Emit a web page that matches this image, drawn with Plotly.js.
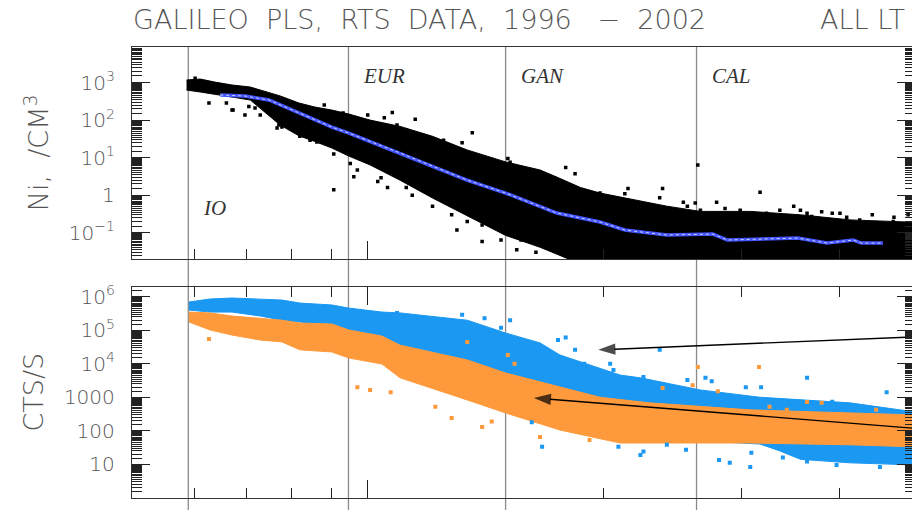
<!DOCTYPE html>
<html><head><meta charset="utf-8">
<script src="https://cdn.plot.ly/plotly-3.0.1.min.js"></script>
<style>html,body{margin:0;padding:0;overflow:hidden;background:#fff;width:912px;height:510px}#chart{width:916px;height:510px}</style>
</head><body><div id="chart"></div>
<script>
// ---- x: radial distance (R_J), log axis ----
const rRange = [5, 50];
const rMajorTicks = [10];
const rMinorTicks = [6, 7, 8, 9, 20, 30, 40];
const moonNames = ['IO', 'EUR', 'GAN', 'CAL'];
const moonR = [5.9, 9.45, 15.0, 26.3];

// ---- top panel: ion density Ni (/cm^3) ----
const niRange = [0.02, 9000];
const niTickVals = [0.1, 1, 10, 100, 1000];
const niTickText = ['10<sup>−1</sup>', '1', '10<sup>1</sup>', '10<sup>2</sup>', '10<sup>3</sup>'];
const niUpperR = [5.87,6.11,6.38,6.71,7.08,7.40,7.73,8.17,8.56,9.0,9.46,10.07,11.0,12.1,13.4,15.0,16.6,17.4,18.7,19.8,21.6,24.1,26.6,30.8,35.7,41.3,50];
const niUpper  = [1170,1240,1030,860,760,590,440,285,223,185,145,100,68,37,16,7.7,4.7,3.1,1.6,1.14,0.79,0.51,0.37,0.37,0.30,0.22,0.19];
const niLowerR = [5.87,6.11,6.38,6.71,7.08,7.40,7.73,8.17,8.56,9.0,9.46,10.07,11.0,12.1,13.4,15.0,16.6,17.4,18.4,50];
const niLower  = [630,560,494,411,343,154,74,38,27,18,11,6.4,2.5,0.84,0.28,0.085,0.041,0.028,0.017,0.01];
const niScatter = [[6.02,1300],[6.27,285],[6.6,285],[6.71,185],[6.73,185],[6.97,136],[7.05,230],[7.18,209],[7.29,136],[7.33,236],[7.66,62],[7.7,74],[7.77,65],[8.0,62],[8.19,37],[8.44,29],[8.5,44],[8.61,26],[8.7,38],
  [8.8,252],[9.3,154],[10.0,136],[10.5,74],[11.2,52],[12.1,21],[12.5,29],[14.1,8.6],[14.8,7.0],[16.2,4.2],[17.0,2.3],[19.8,1.14],
  [9.05,1.4],[9.6,3.1],[10.3,2.3],[11.4,1.0],[12.1,0.51],[13.4,0.20],[14.8,0.064],[15.5,0.035],
  [9.05,12.5],[9.5,7.0],[9.7,4.7],[10.4,2.9],[10.5,116],[10.6,1.6],[10.75,160],[10.9,74],[11.2,54],[11.2,1.6],[11.5,105],[11.8,37],[12.8,19],[12.8,0.30],[13.0,0.118],[13.2,25],[13.5,10],[13.6,46],[14.0,0.16],[14.0,0.058],[15.1,9.5],[15.2,7.5],[15.7,0.064],[16.1,0.07],[16.4,0.03],[16.6,1.6],[16.9,0.075],[17.9,5.5],[17.9,0.024],[18.2,1.6],[18.4,3.7],[19.0,0.9],[20.3,0.62],[20.6,0.74],[20.8,0.74],[21.3,1.1],[21.5,1.5],[22.3,0.55],[23.6,0.85],[23.8,1.5],[25.3,0.65],[26.2,0.62],[26.4,6.4],[27.9,0.65],[28.6,0.44],[29.3,0.30],[31.7,1.2],[32.9,0.30],[35.7,0.40],[36.4,0.33],[38.0,0.36],[40.1,0.33],[41.0,0.19],[44.1,0.30],[47.0,0.26],[49.0,0.30],
  [20.4,0.74],[21.0,0.51],[21.8,0.40],[22.7,0.51],[23.1,0.27],[24.1,0.40],[24.8,0.33],[25.6,0.51],[26.6,0.40],[27.4,0.27],[28.2,0.33],[29.9,0.40],[30.8,0.27],[32.3,0.33],[33.6,0.40],[34.1,0.27],[35.0,0.51],[36.9,0.27],[39.2,0.33],[40.9,0.26],[42.5,0.22],[46.9,0.20],[48.2,0.15]];
const niMeanR = [6.48,6.97,7.48,8.19,9.0,9.46,10.74,11.0,13.39,15.0,17.44,19.8,21.3,24.1,27.6,28.8,35.4,38.6,41.7,42.7,45.5];
const niMean  = [466,437,343,154,65,45,16,13.3,2.53,1.14,0.335,0.193,0.118,0.087,0.092,0.064,0.072,0.053,0.064,0.053,0.053];

// ---- bottom panel: count rates (cts/s) ----
const ctsRange = [1, 2e6];
const ctsTickVals = [10, 100, 1000, 1e4, 1e5, 1e6];
const ctsTickText = ['10', '100', '1000', '10<sup>4</sup>', '10<sup>5</sup>', '10<sup>6</sup>'];
const blueUpperR = [5.91,6.29,6.71,7.29,7.77,8.19,9.0,9.46,10.43,11.0,12.0,13.4,15.0,16.6,17.6,18.7,19.8,21.0,22.3,26.6,31.7,35.7,41.3,50];
const blueUpper  = [7.0e5,8.6e5,9.2e5,8.6e5,8.0e5,6.5e5,5.7e5,4.6e5,3.5e5,3.3e5,2.7e5,2.0e5,8.3e4,4.2e4,1.83e4,1.13e4,7.5e3,4.6e3,3.8e3,1.65e3,1.0e3,830,680,363];
const blueLowerR = [5.91,6.29,6.71,7.29,7.77,8.19,9.0,9.46,10.43,11.0,12.0,13.4,15.0,16.6,18.7,21.0,26.6,31.7,33.6,35.7,41.3,50];
const blueLower  = [4.0e5,3.5e5,3.5e5,2.67e5,2.0e5,1.77e5,1.09e5,7.2e4,3.6e4,2.1e4,1.3e4,6.5e3,2.0e3,1.0e3,590,200,50,40,25,14,11,9.5];
const orangeUpperR = [5.91,6.29,6.71,7.29,7.77,8.19,9.0,9.46,10.43,11.0,12.0,13.4,15.0,17.6,19.8,22.9,30.8,41.3,50];
const orangeUpper  = [3.5e5,3.3e5,2.67e5,2.3e5,2.0e5,1.65e5,1.54e5,1.02e5,6.7e4,3.6e4,2.25e4,1.3e4,5.3e3,2.0e3,1.0e3,680,420,340,296];
const orangeLowerR = [5.91,6.29,6.71,7.29,7.77,8.19,9.0,9.46,10.43,11.0,12.0,13.4,15.0,17.6,21.0,30.8,41.3,50];
const orangeLower  = [1.77e5,1.02e5,7.2e4,5.1e4,4.5e4,2.6e4,2.25e4,1.49e4,9.8e3,3.8e3,1.9e3,830,340,105,43,43,38,33];
const blueScatter = [[10.9,3.3e5],[12.0,1.44e5],[12.6,1.0e5],[13.1,8.0e4],[13.2,2.9e5],[13.5,6.0e4],[14.1,2.3e5],[14.8,1.2e5],[15.2,2.0e5],[16.2,2.1e4],[16.9,1.3e4],[17.5,5.1e4],[17.9,6.1e4],[18.4,2.6e4],[17.7,9.2e3],[18.9,1.0e4],[20.4,1.0e4],[20.6,6.5e3],[16.7,33],[16.2,180],[23.6,2.6e4],[22.5,4.0e3],[25.6,3.3e3],[27.0,3.8e3],[27.5,3.0e3],[30.4,2.0e3],[31.8,2.0e3],[36.4,3.8e3],[46.0,1.4e3],[39.2,740],[43.0,520],[34.6,680],[28.7,1.0e3],[25.2,950],[20.9,33],[22.3,19],[22.5,24],[28.1,13.4],[29.0,11],[30.8,8.3],[33.9,16],[36.4,12],[39.7,9.5],[41.5,19],[43.3,15],[45.1,8.3],[47.0,13.4],[30.9,22],[25.5,27],[24.1,38]];
const orangeScatter = [[6.27,5.5e4],[9.7,2.0e3],[10.07,1.65e3],[10.7,1.4e3],[12.2,520],[12.8,240],[14.0,130],[14.4,190],[15.1,1.83e4],[15.4,1.0e4],[13.4,4.5e4],[11.4,2.3e4],[26.4,8.0e3],[31.6,8.0e3],[23.8,1.9e3],[28.0,1.5e3],[26.0,2.3e3],[32.6,520],[36.4,720],[38.0,690],[44.6,420],[34.3,420],[16.6,65],[19.2,53]];
const arrowTails = [[51.2, 6.5e4], [51.2, 113]];
const arrowHeads = [[19.7, 2.6e4], [16.3, 950]];

// ---- styling ----
const FONT = 'DejaVu Sans';
const GRAY = '#555';
const BLUE = '#1a98f2', ORANGE = '#ff9a3c';
const L = Math.log10;

function band(xu, yu, xl, yl, color, xa, ya) {
  return {x: xu.concat(xl.slice().reverse()), y: yu.concat(yl.slice().reverse()),
    xaxis: xa, yaxis: ya, mode: 'lines', fill: 'toself', fillcolor: color,
    line: {color: color, width: 1}, hoverinfo: 'skip', showlegend: false};
}
function pts(list, color, size, xa, ya) {
  return {x: list.map(p => p[0]), y: list.map(p => p[1]), xaxis: xa, yaxis: ya,
    mode: 'markers', marker: {color: color, size: size, symbol: 'square'},
    hoverinfo: 'skip', showlegend: false};
}
function arrow(i) {
  return {x: [arrowTails[i][0], arrowHeads[i][0]], y: [arrowTails[i][1], arrowHeads[i][1]],
    xaxis: 'x2', yaxis: 'y2', mode: 'lines+markers', line: {color: '#000', width: 1.4},
    marker: {symbol: 'arrow', angleref: 'previous', size: [0, 18], color: '#000', line: {width: 0}},
    hoverinfo: 'skip', showlegend: false};
}
function minorVals(lo, hi) {
  const out = [];
  for (let e = Math.floor(L(lo)); e <= Math.ceil(L(hi)); e++)
    for (let k = 1.5; k < 10; k += 0.5) { const v = k * Math.pow(10, e); if (v > lo && v < hi) out.push(v); }
  return out;
}

const traces = [
  band(niUpperR, niUpper, niLowerR, niLower, '#000', 'x', 'y'),
  pts(niScatter, '#000', 3.5, 'x', 'y'),
  {x: niMeanR, y: niMean, xaxis: 'x', yaxis: 'y', mode: 'lines', line: {color: '#4656ff', width: 3.5}, hoverinfo: 'skip', showlegend: false},
  {x: niMeanR, y: niMean, xaxis: 'x', yaxis: 'y', mode: 'lines', line: {color: 'rgba(215,222,255,0.9)', width: 1, dash: 'dot'}, hoverinfo: 'skip', showlegend: false},
  band(blueUpperR, blueUpper, blueLowerR, blueLower, BLUE, 'x2', 'y2'),
  band(orangeUpperR, orangeUpper, orangeLowerR, orangeLower, ORANGE, 'x2', 'y2'),
  pts(blueScatter, BLUE, 4, 'x2', 'y2'),
  pts(orangeScatter, ORANGE, 4, 'x2', 'y2'),
  arrow(0), arrow(1)
];

const xCommon = {type: 'log', range: [L(rRange[0]), L(rRange[1])], showgrid: false, zeroline: false,
  showline: true, linecolor: '#333', linewidth: 1.2, ticks: 'inside', tickmode: 'array',
  tickvals: rMajorTicks, ticklen: 18, tickwidth: 1, tickcolor: '#222', showticklabels: false,
  minor: {tickmode: 'array', tickvals: rMinorTicks, ticks: 'inside', ticklen: 10, tickwidth: 1, tickcolor: '#222'}};
const yCommon = {type: 'log', showgrid: false, zeroline: false, showline: true, linecolor: '#333',
  linewidth: 1.2, mirror: 'ticks', ticks: 'inside', tickmode: 'array', ticklen: 18, tickwidth: 1,
  tickcolor: '#222', ticklabelstandoff: 12, tickfont: {family: FONT, size: 20, color: GRAY, weight: 300}};

const layout = {
  width: 916, height: 510, margin: {l: 132, r: 1, t: 0, b: 0},
  paper_bgcolor: '#fff', plot_bgcolor: 'rgba(0,0,0,0)', showlegend: false,
  title: {text: 'GALILEO\u00a0\u00a0PLS,\u00a0\u00a0RTS\u00a0\u00a0DATA,\u00a0\u00a01996\u00a0\u00a0\u00a0−\u00a0\u00a02002',
    x: 133 / 916, xref: 'container', xanchor: 'left', y: 1 - 20 / 510, yref: 'container', yanchor: 'middle',
    font: {family: FONT, size: 27, color: GRAY, weight: 300}},
  xaxis: Object.assign({}, xCommon, {anchor: 'y', domain: [0, 1], mirror: true}),
  xaxis2: Object.assign({}, xCommon, {anchor: 'y2', domain: [0, 1], mirror: 'ticks'}),
  yaxis: Object.assign({}, yCommon, {anchor: 'x', domain: [0.4922, 0.9084], range: [L(niRange[0]), L(niRange[1])],
    tickvals: niTickVals, ticktext: niTickText,
    minor: {tickmode: 'array', tickvals: minorVals(niRange[0], niRange[1]), ticks: 'inside', ticklen: 10, tickwidth: 1, tickcolor: '#222'},
    title: {text: 'Ni,\u00a0\u00a0/CM<sup>3</sup>', font: {family: FONT, size: 27, color: GRAY, weight: 300}, standoff: 12}}),
  yaxis2: Object.assign({}, yCommon, {anchor: 'x2', domain: [0.0241, 0.4378], range: [L(ctsRange[0]), L(ctsRange[1])],
    tickvals: ctsTickVals, ticktext: ctsTickText,
    minor: {tickmode: 'array', tickvals: minorVals(ctsRange[0], ctsRange[1]), ticks: 'inside', ticklen: 10, tickwidth: 1, tickcolor: '#222'},
    title: {text: 'CTS/S', font: {family: FONT, size: 27, color: GRAY, weight: 300}, standoff: 12}}),
  shapes: moonR.map(r => ({type: 'line', xref: 'x', yref: 'paper', x0: r, x1: r, y0: 0, y1: 0.9084,
    line: {color: '#8a8a8a', width: 1.3}, layer: 'below'})),
  annotations: moonNames.map((n, i) => ({text: n, xref: 'x', yref: 'paper', x: L(moonR[i]),
      y: i === 0 ? 0.592 : 0.851, xanchor: 'left', yanchor: 'middle', xshift: 13, showarrow: false,
      font: {family: 'Liberation Serif', size: 21, color: '#333', style: 'italic'}}))
    .concat([{text: 'ALL LT', xref: 'paper', yref: 'paper', x: (818 - 132) / 783, y: 1 - 20 / 510,
      xanchor: 'left', yanchor: 'middle', showarrow: false, font: {family: FONT, size: 27, color: GRAY, weight: 300}}])
};

Plotly.newPlot('chart', traces, layout, {displayModeBar: false, staticPlot: true});
</script></body></html>
